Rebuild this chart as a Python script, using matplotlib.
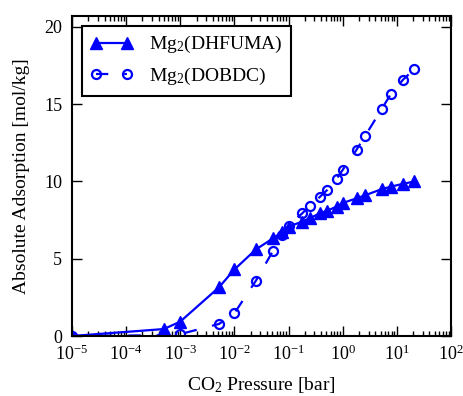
import matplotlib
matplotlib.use("Agg")
import numpy as np
import matplotlib.pyplot as plt
from matplotlib.ticker import LogLocator, LogFormatterMathtext, MultipleLocator, NullFormatter

plt.rcParams['font.family'] = 'Liberation Serif'
plt.rcParams['mathtext.fontset'] = 'custom'
plt.rcParams['mathtext.rm'] = 'Liberation Serif'
plt.rcParams['mathtext.it'] = 'Liberation Serif:italic'
plt.rcParams['mathtext.default'] = 'regular'
plt.rcParams['lines.scale_dashes'] = False

pressure = [1e-5, 5e-4, 1e-3, 5.2e-3, 1e-2, 2.5e-2, 5.2e-2, 7.7e-2, 0.1, 0.18, 0.25,
            0.38, 0.52, 0.77, 1.0, 1.8, 2.6, 5.3, 7.8, 13, 21]
dhfuma = [0.0, 0.45, 0.93, 3.15, 4.3, 5.6, 6.32, 6.75, 7.07, 7.4, 7.62,
          7.94, 8.1, 8.37, 8.6, 8.9, 9.1, 9.5, 9.66, 9.84, 9.99]
dobdc = [0.0, 0.05, 0.12, 0.78, 1.47, 3.58, 5.52, 6.5, 7.14, 7.94, 8.43,
         9.0, 9.45, 10.16, 10.74, 12.04, 12.94, 14.7, 15.66, 16.57, 17.26]

labels = ['Mg$_2$(DHFUMA)', 'Mg$_2$(DOBDC)']

fig = plt.figure(figsize=(4.64, 3.96), dpi=100)
ax = fig.add_axes([0.155, 0.1515, 0.817, 0.8085])
ax.set_xscale('log')
ax.set_xlim(1e-5, 1e2)
ax.set_ylim(0, 20.7)

# dash phase fitted to the reference: a dash ends ~17 px after the 1e-3 point
# and another ends ~19 px after the 2.6 bar point
pts = ax.transData.transform(np.column_stack([pressure, dobdc]))
seg = np.hypot(*np.diff(pts, axis=0).T)
cum = np.concatenate([[0], np.cumsum(seg)])
e1 = cum[2] + 17.0
e2 = cum[16] + 19.0
L = e2 - e1
n = max(1, round(L / 27.5))
period_px = L / n
period_pt = period_px * 72 / 100
on_pt = period_pt * 0.44
off_pt = period_pt - on_pt
offset = (on_pt - e1 * 72 / 100) % period_pt

ax.plot(pressure, dhfuma, color='blue', marker='^', markersize=8.5, lw=1.6,
        label=labels[0])
ax.plot(pressure, dobdc, color='blue', marker='o', markersize=6.5, lw=1.6,
        markerfacecolor='none', markeredgewidth=1.6,
        linestyle=(offset, (on_pt, off_pt)), label=labels[1])

ax.xaxis.set_major_locator(LogLocator(base=10, numticks=20))
ax.xaxis.set_major_formatter(LogFormatterMathtext())
ax.xaxis.set_minor_locator(LogLocator(base=10, subs=range(2, 10), numticks=100))
ax.xaxis.set_minor_formatter(NullFormatter())
ax.yaxis.set_major_locator(MultipleLocator(5))

ax.tick_params(which='both', direction='in', top=True, right=True, labelsize=13)
ax.tick_params(which='major', length=7, width=1)
ax.tick_params(which='minor', length=3.5, width=1)
ax.tick_params(axis='x', pad=6)
ax.tick_params(axis='y', pad=7)
for s in ax.spines.values():
    s.set_linewidth(1.5)

ax.set_xlabel('CO$_2$ Pressure [bar]', fontsize=14, labelpad=8)
ax.set_ylabel('Absolute Adsorption [mol/kg]', fontsize=14, labelpad=10)

leg = ax.legend(loc='upper left', fontsize=14, numpoints=2, handlelength=2.2,
                fancybox=False, edgecolor='black', framealpha=1,
                borderaxespad=0.5, borderpad=0.45, labelspacing=0.55)
leg.get_frame().set_linewidth(1.5)

fig.savefig('out.png', dpi=100)
